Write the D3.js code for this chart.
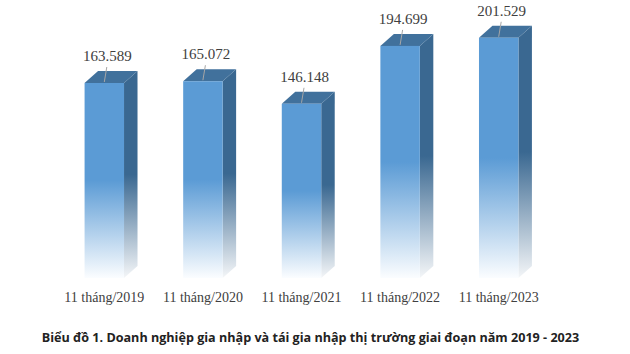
<!DOCTYPE html>
<html>
<head>
<meta charset="utf-8">
<script src="https://cdn.jsdelivr.net/npm/d3@7"></script>
<style>
  body { margin: 0; background: #fff; }
  svg { display: block; }
</style>
</head>
<body>
<svg id="chart" width="630" height="354"></svg>
<script>
const categories = ["11 tháng/2019", "11 tháng/2020", "11 tháng/2021", "11 tháng/2022", "11 tháng/2023"];
const values = [163.589, 165.072, 146.148, 194.699, 201.529];
const valueLabels = ["163.589", "165.072", "146.148", "194.699", "201.529"];
const title = "Biểu đồ 1. Doanh nghiệp gia nhập và tái gia nhập thị trường giai đoạn năm 2019 - 2023";

const svg = d3.select("#chart");
const depthX = 13.5, depthY = -12;

const x = d3.scaleBand().domain(categories).range([55, 548]).paddingInner(0.6).paddingOuter(0.3);
const y = d3.scaleLinear().domain([0, 200]).range([278, 39.6]);

// gradients: solid on the upper half, fading to white at the bottom
const defs = svg.append("defs");
function fade(id, c, end) {
  const g = defs.append("linearGradient").attr("id", id)
    .attr("x1", 0).attr("y1", 0).attr("x2", 0).attr("y2", 1);
  g.append("stop").attr("offset", 0).attr("stop-color", c);
  g.append("stop").attr("offset", 0.5).attr("stop-color", c);
  g.append("stop").attr("offset", 1).attr("stop-color", end);
}
fade("frontGrad", "#5b9bd5", "#fbfdff");
fade("sideGrad", "#3a6891", "#f4f6f8");

const data = categories.map((c, i) => ({ cat: c, v: values[i], label: valueLabels[i] }));
const bw = x.bandwidth();

const bars = svg.append("g").selectAll("g").data(data).enter().append("g");

// side face
bars.append("path")
  .attr("fill", "url(#sideGrad)")
  .attr("d", d => {
    const x1 = x(d.cat) + bw, t = y(d.v), b = y(0);
    return `M${x1},${t}L${x1 + depthX},${t + depthY}L${x1 + depthX},${b + depthY}L${x1},${b}Z`;
  });

// top face
bars.append("path")
  .attr("fill", "#41719c")
  .attr("d", d => {
    const x0 = x(d.cat), t = y(d.v);
    return `M${x0},${t}L${x0 + depthX},${t + depthY}L${x0 + bw + depthX},${t + depthY}L${x0 + bw},${t}Z`;
  });

// front face
bars.append("rect")
  .attr("x", d => x(d.cat))
  .attr("y", d => y(d.v))
  .attr("width", bw)
  .attr("height", d => y(0) - y(d.v))
  .attr("fill", "url(#frontGrad)");

// leader lines
bars.append("line")
  .attr("x1", d => x(d.cat) + bw / 2 + 2.5)
  .attr("y1", d => y(d.v) - 16)
  .attr("x2", d => x(d.cat) + bw / 2)
  .attr("y2", d => y(d.v) - 1)
  .attr("stroke", "#a6a6a6")
  .attr("stroke-width", 1);

// value labels
bars.append("text")
  .attr("x", d => x(d.cat) + bw / 2 + 3)
  .attr("y", d => y(d.v) - 22)
  .attr("text-anchor", "middle")
  .style("font-family", "'Liberation Serif', 'Times New Roman', serif")
  .style("font-size", "15px")
  .attr("fill", "#404040")
  .text(d => d.label);

// category labels
svg.append("g").selectAll("text").data(categories).enter().append("text")
  .attr("x", d => x(d) + bw / 2)
  .attr("y", 302)
  .attr("text-anchor", "middle")
  .style("font-family", "'Liberation Serif', 'Times New Roman', serif")
  .style("font-size", "14px")
  .attr("fill", "#404040")
  .text(d => d);

// caption
svg.append("text")
  .attr("x", 310.5)
  .attr("y", 342)
  .attr("text-anchor", "middle")
  .style("font-family", "'Open Sans', sans-serif")
  .style("font-size", "12.6px")
  .style("font-weight", "700")
  .attr("fill", "#222")
  .text(title);
</script>
</body>
</html>
